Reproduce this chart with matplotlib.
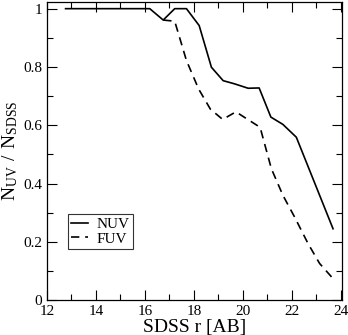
import matplotlib
matplotlib.use("Agg")
import matplotlib.pyplot as plt
from matplotlib.ticker import MultipleLocator, FuncFormatter

plt.rcParams['font.family'] = ['Liberation Serif', 'DejaVu Serif']
plt.rcParams['mathtext.fontset'] = 'custom'
plt.rcParams['mathtext.rm'] = 'Liberation Serif'

# SDSS r magnitude bins
r_nuv = [12.76, 16.2, 16.75, 17.22, 17.7, 18.22, 18.72, 19.2, 19.67, 20.22, 20.67, 21.15, 21.64, 22.19, 23.69]
frac_nuv = [1.0, 1.0, 0.961, 1.0, 1.0, 0.942, 0.799, 0.753, 0.742, 0.727, 0.728, 0.628, 0.603, 0.559, 0.245]

r_fuv = [16.75, 17.22, 17.7, 18.2, 18.68, 19.18, 19.72, 20.71, 21.17, 21.64, 22.12, 22.67, 23.14, 23.69]
frac_fuv = [0.961, 0.957, 0.822, 0.724, 0.655, 0.620, 0.646, 0.593, 0.451, 0.360, 0.285, 0.194, 0.126, 0.074]

fig = plt.figure(figsize=(3.48, 3.35), dpi=100)
ax = fig.add_axes([0.135, 0.104, 0.848, 0.891])

ax.plot(r_nuv, frac_nuv, 'k-', lw=1.2, label='NUV')
ax.plot(r_fuv, frac_fuv, 'k--', lw=1.2, dashes=(5, 3.5), label='FUV')

ax.set_xlim(12, 24.06)
ax.set_ylim(0, 1.024)
ax.xaxis.set_major_locator(MultipleLocator(2))
ax.xaxis.set_minor_locator(MultipleLocator(1))
ax.yaxis.set_major_locator(MultipleLocator(0.2))
ax.yaxis.set_minor_locator(MultipleLocator(0.1))
ax.yaxis.set_major_formatter(FuncFormatter(lambda v, p: '%g' % round(v, 2)))
ax.tick_params(which='both', direction='in', top=True, right=True, labelsize=11, width=0.8)
ax.tick_params(which='major', length=7)
ax.tick_params(which='minor', length=4)
for s in ax.spines.values():
    s.set_linewidth(0.9)

ax.set_xlabel('SDSS r [AB]', fontsize=14, labelpad=1)
ax.set_ylabel(r'$\mathregular{N_{UV}\ /\ N_{SDSS}}$', fontsize=14, labelpad=2)

leg = ax.legend(loc='lower left', bbox_to_anchor=(0.07, 0.17), fontsize=11,
                frameon=True, fancybox=False, handlelength=1.1, borderpad=0.25,
                labelspacing=0.05, handletextpad=0.55, borderaxespad=0)
leg.get_frame().set_edgecolor('black')
leg.get_frame().set_linewidth(0.8)

plt.savefig("out.png", dpi=100)
